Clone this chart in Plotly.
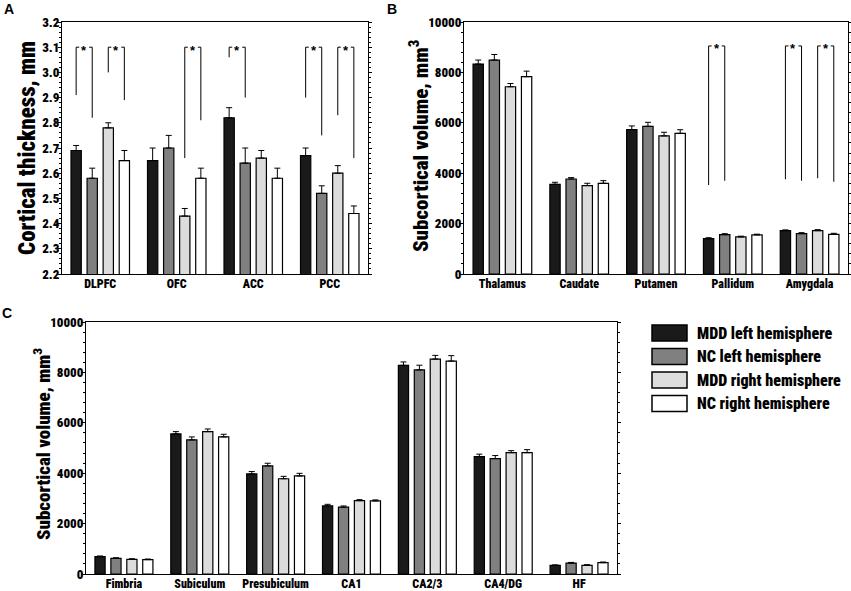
import plotly.graph_objects as go

W, H = 851, 591
FONT = 'Roboto Condensed, Roboto, Liberation Sans, sans-serif'

series = ['MDD left hemisphere', 'NC left hemisphere',
          'MDD right hemisphere', 'NC right hemisphere']
colors = ['#1a1a1a', '#808080', '#dcdcdc', '#ffffff']

# panel A: cortical thickness (mm), one row per series
cortical_regions = ['DLPFC', 'OFC', 'ACC', 'PCC']
cortical_mean = [
    [2.69, 2.65, 2.82, 2.67],
    [2.58, 2.70, 2.64, 2.52],
    [2.78, 2.43, 2.66, 2.60],
    [2.65, 2.58, 2.58, 2.44],
]
cortical_err = [
    [0.02, 0.05, 0.04, 0.03],
    [0.04, 0.05, 0.06, 0.03],
    [0.02, 0.03, 0.03, 0.03],
    [0.04, 0.04, 0.04, 0.03],
]
# (region, bar a, bar b, leg a bottom, leg b bottom)
cortical_sig = [(0, 0, 1, 2.91, 2.82), (0, 2, 3, 3.00, 2.89),
                (1, 2, 3, 2.66, 2.81), (2, 0, 1, 3.06, 2.90),
                (3, 0, 1, 2.90, 2.75), (3, 2, 3, 2.83, 2.66)]
cortical_sig_top = 3.10

# panel B: subcortical volume (mm3)
subcort_regions = ['Thalamus', 'Caudate', 'Putamen', 'Pallidum', 'Amygdala']
subcort_mean = [
    [8330, 3560, 5730, 1400, 1720],
    [8490, 3770, 5860, 1560, 1600],
    [7430, 3510, 5480, 1470, 1720],
    [7830, 3600, 5580, 1550, 1575],
]
subcort_err = [
    [160, 80, 145, 40, 30],
    [220, 55, 160, 40, 40],
    [130, 90, 145, 30, 40],
    [220, 105, 145, 30, 40],
]
subcort_sig = [(3, 0, 1, 3530, 3700), (4, 0, 1, 3760, 3700), (4, 2, 3, 3800, 3660)]
subcort_sig_top = 9050

# panel C: hippocampal subfield volume (mm3)
hipp_regions = ['Fimbria', 'Subiculum', 'Presubiculum', 'CA1', 'CA2/3', 'CA4/DG', 'HF']
hipp_mean = [
    [690, 5560, 3970, 2700, 8280, 4660, 345],
    [620, 5320, 4290, 2650, 8100, 4580, 435],
    [580, 5650, 3780, 2910, 8530, 4815, 345],
    [570, 5440, 3890, 2900, 8450, 4815, 450],
]
hipp_err = [
    [25, 90, 95, 65, 135, 95, 15],
    [25, 120, 105, 50, 185, 120, 25],
    [25, 105, 95, 40, 145, 80, 25],
    [25, 105, 105, 40, 215, 120, 25],
]

BARGAP = 0.16
SLOT = (1 - BARGAP) / 4
OFFS = [(k - 1.5) * SLOT for k in range(4)]


def px_x(a, b):
    return [a / W, b / W]


def px_y(top, bottom):
    return [1 - bottom / H, 1 - top / H]


fig = go.Figure()


def add_bars(n, means, errs, xa, ya):
    for k in range(4):
        fig.add_trace(go.Bar(
            x=list(range(n)), y=means[k], name=series[k],
            marker=dict(color=colors[k], line=dict(color='black', width=1.2)),
            error_y=dict(type='data', symmetric=False, array=errs[k],
                         arrayminus=[0] * n, color='black', thickness=1, width=3),
            xaxis=xa, yaxis=ya, showlegend=False))


def add_sig(sig, top, dx, xa, ya, star_shift):
    xs, ys = [], []
    for cat, a, b, ya_, yb_ in sig:
        x1 = cat + OFFS[a]
        x2 = cat + OFFS[b]
        xs += [x1, x1, x1 + dx, None, x2 - dx, x2, x2, None]
        ys += [ya_, top, top, None, top, top, yb_, None]
        fig.add_annotation(x=(x1 + x2) / 2, y=top, text='*', showarrow=False,
                           xref=xa, yref=ya, yshift=star_shift,
                           font=dict(size=13, color='black', family='Arial'))
    fig.add_trace(go.Scatter(x=xs, y=ys, mode='lines', xaxis=xa, yaxis=ya,
                             line=dict(color='black', width=1), showlegend=False,
                             hoverinfo='skip'))


add_bars(len(cortical_regions), cortical_mean, cortical_err, 'x', 'y')
add_sig(cortical_sig, cortical_sig_top, 0.04, 'x', 'y', -3)
add_bars(len(subcort_regions), subcort_mean, subcort_err, 'x2', 'y2')
add_sig(subcort_sig, subcort_sig_top, 0.04, 'x2', 'y2', -3)
add_bars(len(hipp_regions), hipp_mean, hipp_err, 'x3', 'y3')


def xax(cats, dom, anchor):
    return dict(domain=dom, anchor=anchor, range=[-0.5, len(cats) - 0.5],
                tickvals=list(range(len(cats))), ticktext=cats, ticks='',
                showline=True, linecolor='black', linewidth=1, mirror=True,
                showgrid=False, zeroline=False, fixedrange=True,
                tickfont=dict(size=12), ticklabelstandoff=-1, automargin=False)


def yax(rng, dtick, minor, dom, anchor, fmt):
    return dict(domain=dom, anchor=anchor, range=rng, dtick=dtick, tickformat=fmt,
                ticks='outside', ticklen=3, tickwidth=1, tickcolor='black',
                minor=dict(dtick=minor, ticks='outside', ticklen=2, tickcolor='black'),
                showline=True, linecolor='black', linewidth=1, mirror='ticks',
                showgrid=False, zeroline=False, tickfont=dict(size=13),
                ticklabelstandoff=-4, automargin=False)


fig.update_layout(
    width=W, height=H,
    margin=dict(l=0, r=0, t=0, b=0),
    paper_bgcolor='white', plot_bgcolor='white',
    font=dict(family=FONT, color='black', weight=900),
    barmode='group', bargap=BARGAP, bargroupgap=0.36,
    xaxis=xax(cortical_regions, px_x(62, 368), 'y'),
    yaxis=yax([2.2, 3.2], 0.1, 0.02, px_y(22, 274), 'x', '.1f'),
    xaxis2=xax(subcort_regions, px_x(464, 848), 'y2'),
    yaxis2=yax([0, 10000], 2000, 400, px_y(22, 274), 'x2', 'd'),
    xaxis3=xax(hipp_regions, px_x(86, 617), 'y3'),
    yaxis3=yax([0, 10000], 2000, 400, px_y(322, 574), 'x3', 'd'),
)

# y axis titles, placed by hand so they sit as close to the labels as in the original
for text, tx, ty, size in [('Cortical thickness, mm', 28, 148, 23),
                           ('Subcortical volume, mm<sup>3</sup>', 419, 146, 21),
                           ('Subcortical volume, mm<sup>3</sup>', 42, 444, 19)]:
    fig.add_annotation(x=tx / W, y=1 - ty / H, xref='paper', yref='paper',
                       text=text, textangle=-90, showarrow=False,
                       xanchor='center', yanchor='middle', font=dict(size=size))

# panel letters
for letter, lx, ly in [('A', 9, 9), ('B', 392, 9), ('C', 7, 313)]:
    fig.add_annotation(x=lx / W, y=1 - ly / H, xref='paper', yref='paper',
                       text=letter, showarrow=False, xanchor='center', yanchor='middle',
                       font=dict(size=14, family='Arial, Liberation Sans', weight='bold'))

# legend drawn as a key beside panel C
for k in range(4):
    top = 325 + k * 23.5
    fig.add_shape(type='rect', xref='paper', yref='paper',
                  x0=652 / W, x1=687 / W, y0=1 - (top + 16) / H, y1=1 - top / H,
                  fillcolor=colors[k], line=dict(color='black', width=1.5))
    fig.add_annotation(x=695 / W, y=1 - (top + 8) / H, xref='paper', yref='paper',
                       text=series[k], showarrow=False, xanchor='left', yanchor='middle',
                       font=dict(size=16))

# the page's default body margin would push the 851x591 figure off the window
fig.write_html('out.html', config={'displayModeBar': False},
               post_script="document.body.style.margin = '0';")
